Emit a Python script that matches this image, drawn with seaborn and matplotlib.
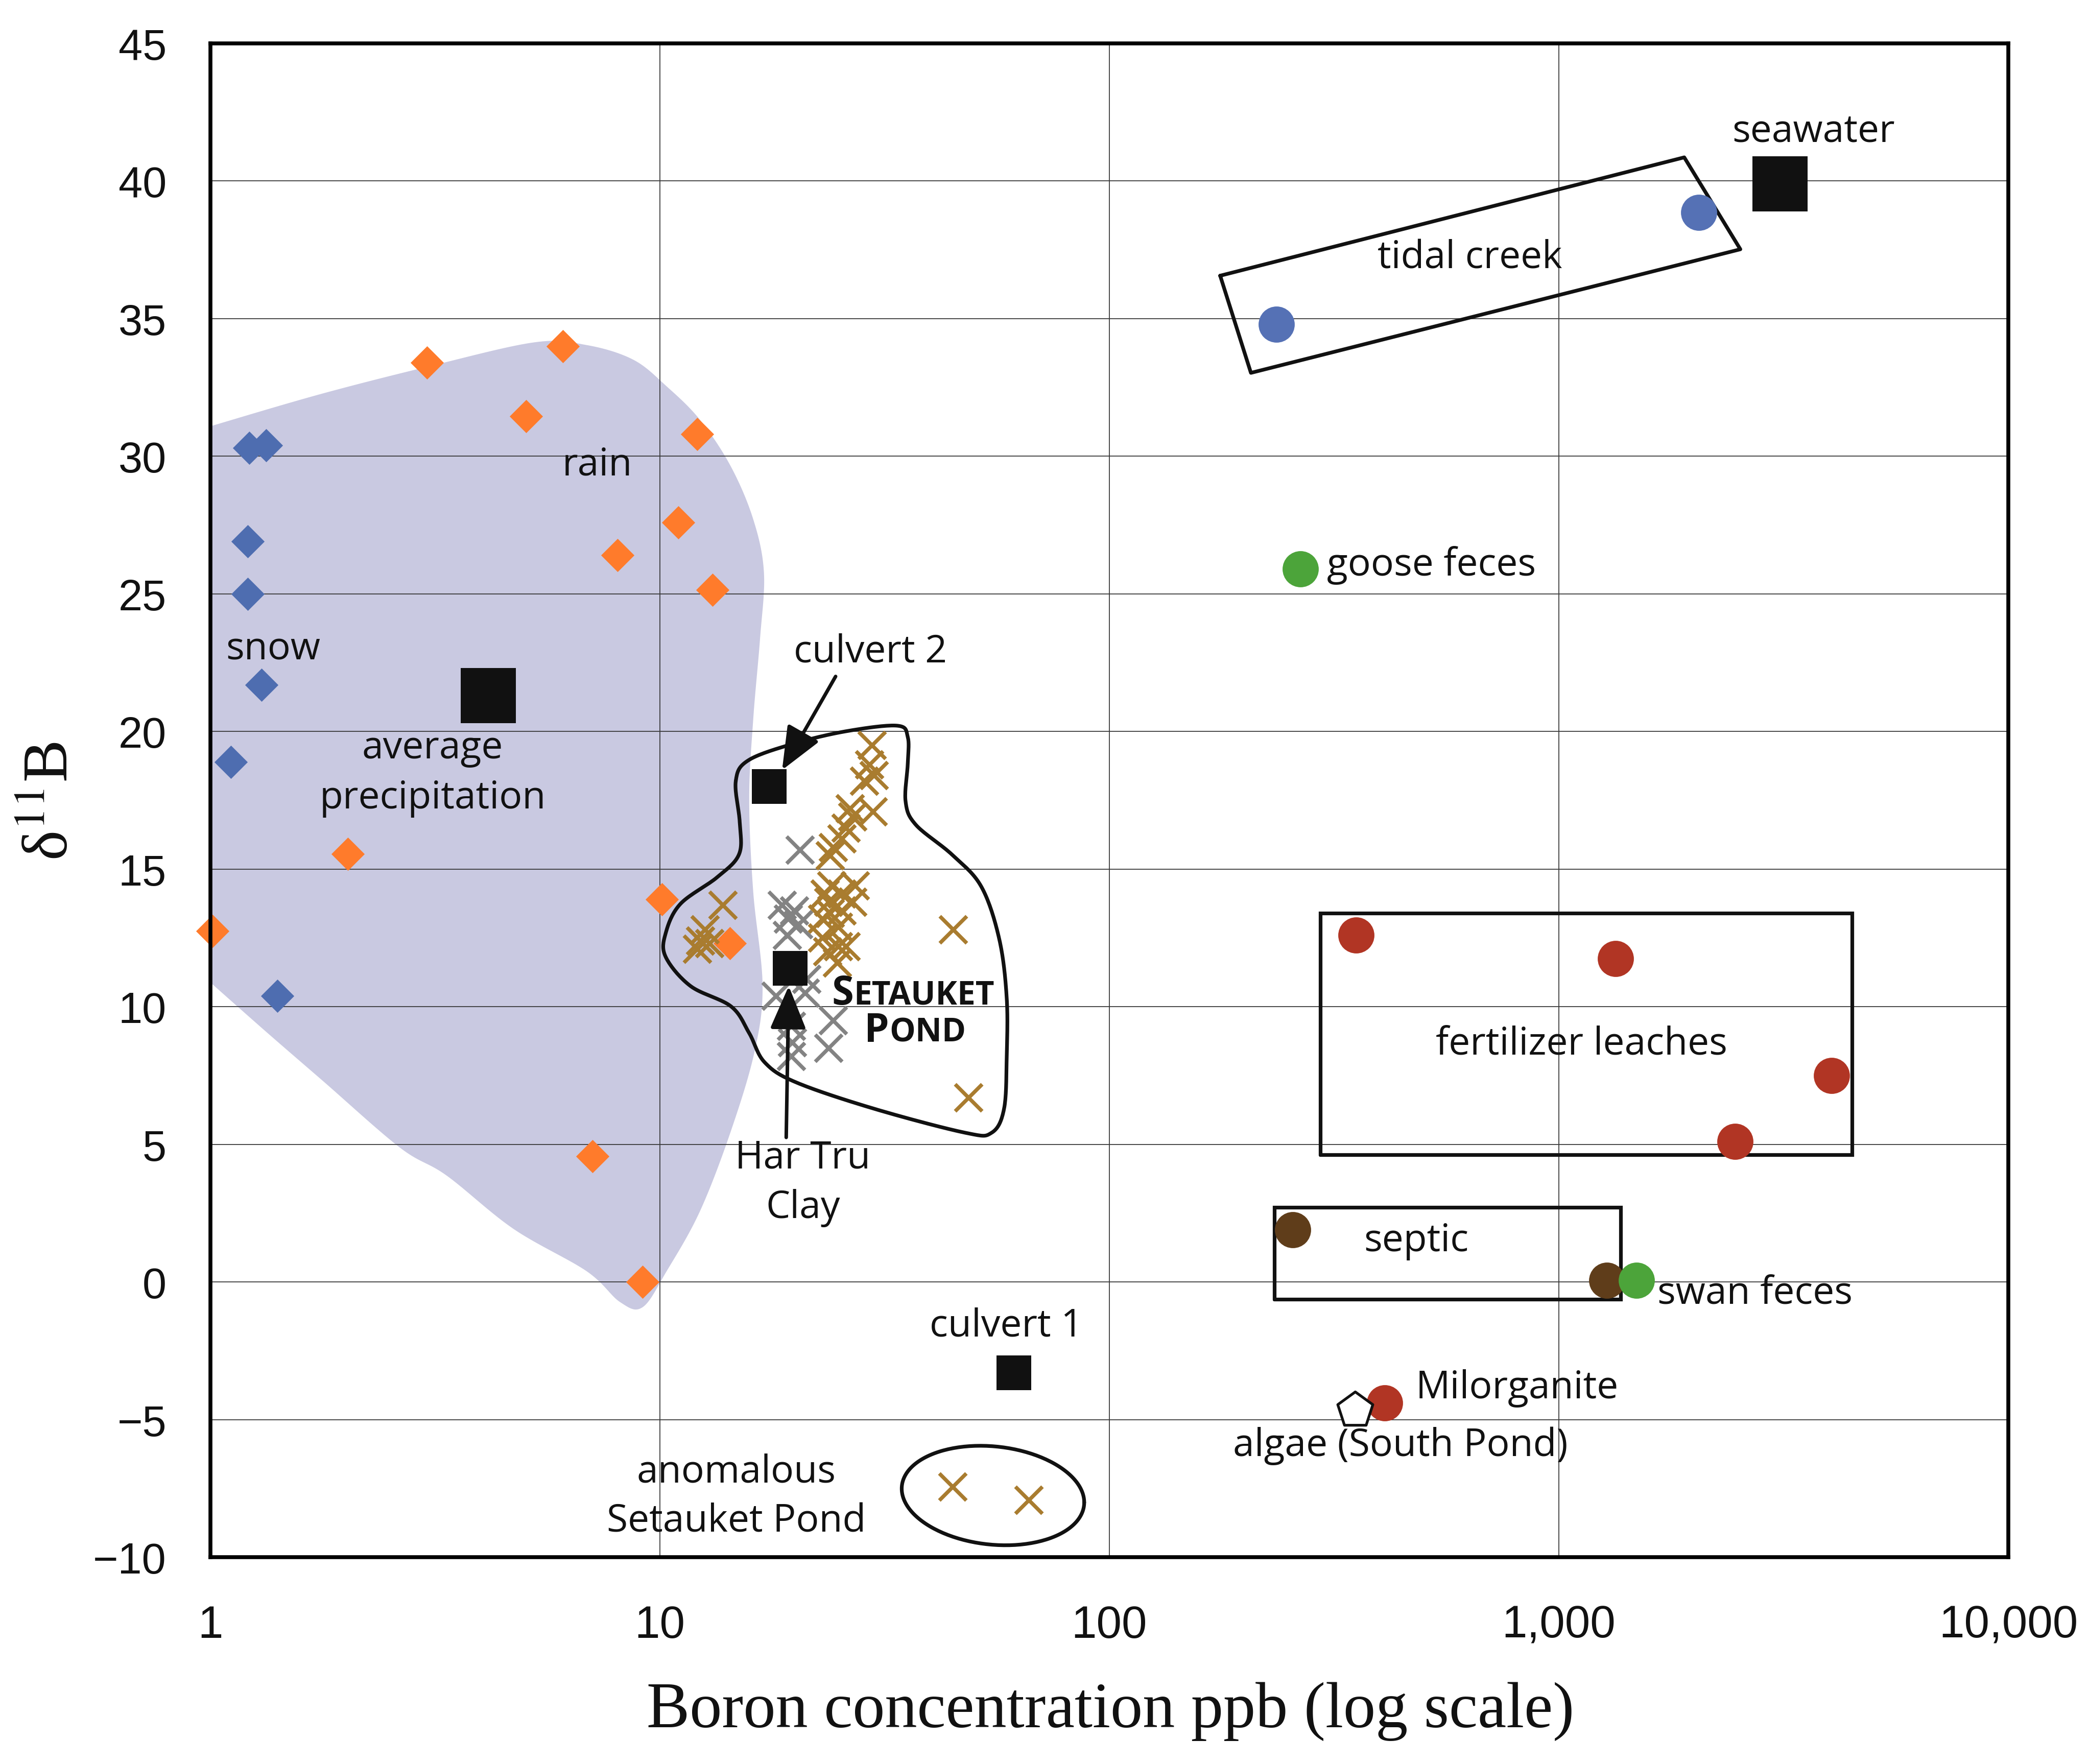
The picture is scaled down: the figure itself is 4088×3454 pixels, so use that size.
import numpy as np
import pandas as pd
import matplotlib
matplotlib.use("Agg")
import matplotlib.pyplot as plt
import seaborn as sns
from matplotlib.ticker import FixedLocator, FixedFormatter, NullLocator

# ---------------- data ----------------
snow_x = [1.22, 1.33, 1.21, 1.21, 1.30, 1.11, 1.41]
snow_y = [30.3, 30.4, 26.9, 25.0, 21.7, 18.9, 10.4]

rain_x = [3.03, 6.08, 5.04, 12.1, 11.0, 8.05, 13.1, 2.02, 1.01, 10.1, 14.3, 7.08, 9.16]
rain_y = [33.4, 34.0, 31.45, 30.8, 27.6, 26.4, 25.15, 15.55, 12.75, 13.9, 12.3, 4.56, 0.0]

pond_brown_x = [29.6, 29.2, 29.9, 28.5, 29.8, 26.5, 26.8, 25.9, 25.4, 24.3, 23.9,
                27.2, 24.1, 25.4, 23.3, 26.8, 23.7, 25.4, 23.9, 23.0, 24.9, 23.0,
                25.9, 24.9, 23.6, 24.8, 44.9, 48.6, 13.8, 12.6, 12.3, 12.1, 12.9]
pond_brown_y = [19.5, 18.8, 18.4, 18.2, 17.1, 17.2, 16.9, 16.5, 16.1, 15.8, 15.5,
                14.4, 14.4, 14.1, 14.1, 13.8, 13.8, 13.5, 13.4, 13.2, 12.9, 12.5,
                12.2, 12.2, 12.0, 11.6, 12.8, 6.7, 13.7, 12.8, 12.4, 12.1, 12.3]

pond_gray_x = [20.5, 18.7, 19.9, 19.3, 20.3, 19.2, 21.2, 18.1, 21.0, 19.6, 24.3, 19.7, 23.7, 19.6]
pond_gray_y = [15.7, 13.7, 13.5, 13.2, 13.0, 12.6, 11.0, 10.4, 10.5, 9.3, 9.5, 8.7, 8.5, 8.2]

anomalous_x = [44.8, 66.1]
anomalous_y = [-7.43, -7.92]

avg_precip_x, avg_precip_y = [4.15], [21.3]
seawater_x, seawater_y = [3105], [39.9]
culvert_x = [17.5, 61.3]          # culvert 2, culvert 1
culvert_y = [18.0, -3.3]
hartru_x, hartru_y = [19.5], [11.4]

tidal_x = [235, 2050]
tidal_y = [34.8, 38.85]
goose_x, goose_y = [266], [25.9]
swan_x, swan_y = [1489], [0.05]
septic_x = [256, 1280]
septic_y = [1.9, 0.05]
fert_x = [354, 1336, 4045, 2468]
fert_y = [12.6, 11.75, 7.5, 5.1]
milorganite_x, milorganite_y = [410], [-4.4]
algae_x, algae_y = [352], [-4.65]

x_ticks = [1, 10, 100, 1000, 10000]
x_ticklabels = ["1", "10", "100", "1,000", "10,000"]
y_ticks = [45, 40, 35, 30, 25, 20, 15, 10, 5, 0, -5, -10]
y_ticklabels = ["45", "40", "35", "30", "25", "20", "15", "10", "5", "0", "\u22125", "\u221210"]

# outline shapes (data coordinates)
precip_zone_x = [1.0, 1.75, 3.07, 5.26, 6.87, 8.72, 10.35, 12.27, 14.37, 16.13, 17.04, 16.70,
                 16.13, 15.80, 16.13, 16.92, 16.24, 14.37, 12.27, 10.35, 9.15, 8.15, 6.87,
                 4.72, 3.35, 2.64, 1.78, 1.33, 1.0]
precip_zone_y = [31.09, 32.25, 33.27, 34.14, 34.04, 33.51, 32.54, 31.33, 29.64, 27.71, 25.77,
                 23.36, 20.45, 17.55, 14.17, 10.78, 8.37, 5.46, 2.56, 0.39, -0.92, -0.73, 0.39,
                 1.93, 3.87, 4.88, 7.30, 9.09, 10.88]

pond_outline_x = [14.75, 15.76, 20.06, 26.2, 33.75, 35.6, 35.6, 35.2, 37.1, 44.7, 51.9,
                  56.9, 59.1, 59.1, 58.3, 54.7, 47.8, 30.0, 20.1, 17.1, 15.8, 14.4,
                  11.7, 10.3, 10.3, 11.1, 13.4, 15.0, 15.05]
pond_outline_y = [18.2, 18.96, 19.58, 20.02, 20.21, 19.8, 18.84, 17.46, 16.61, 15.52, 14.36,
                  12.45, 10.32, 8.19, 6.29, 5.42, 5.42, 6.29, 7.25, 7.98, 9.04, 10.01,
                  10.75, 11.81, 12.67, 13.73, 14.7, 15.54, 16.71]

tidal_box_x = [176.4, 1901, 2534, 206.5]
tidal_box_y = [36.56, 40.86, 37.52, 33.03]
fert_box_x = [294.6, 4487]
fert_box_y = [4.63, 13.4]
septic_box_x = [233, 1371]
septic_box_y = [-0.62, 2.72]

# ---------------- style ----------------
sns.set_theme(style="white")
plt.rcParams["font.family"] = ["Open Sans", "DejaVu Sans"]
plt.rcParams["mathtext.fontset"] = "stix"

W, H, DPI = 4088, 3455, 100
fig = plt.figure(figsize=(W / DPI, H / DPI), dpi=DPI)
fig.patch.set_facecolor("white")
ax = fig.add_axes([412 / W, 1 - 3050 / H, 3520 / W, 2964 / H])
ax.set_xscale("log")
ax.set_xlim(1, 10000)
ax.set_ylim(-10, 45)

# grid
ax.xaxis.set_major_locator(FixedLocator(x_ticks))
ax.xaxis.set_major_formatter(FixedFormatter(x_ticklabels))
ax.xaxis.set_minor_locator(NullLocator())
ax.yaxis.set_major_locator(FixedLocator(y_ticks))
ax.yaxis.set_major_formatter(FixedFormatter(y_ticklabels))
ax.set_axisbelow(True)
ax.grid(True, which="major", color="#3a3a3a", lw=1.3)
for s in ax.spines.values():
    s.set_visible(True)
    s.set_color("black")
    s.set_linewidth(5.5)
    s.set_zorder(10)
ax.tick_params(axis="both", length=0)
ax.tick_params(axis="y", pad=62)
ax.tick_params(axis="x", pad=66)
for lab in ax.get_yticklabels():
    lab.set_fontfamily(["Liberation Sans", "DejaVu Sans"])
    lab.set_fontsize(61)
    lab.set_color("#111111")
for lab in ax.get_xticklabels():
    lab.set_fontfamily(["Liberation Sans Narrow", "Liberation Sans", "DejaVu Sans"])
    lab.set_fontsize(64)
    lab.set_color("#111111")


def _cr(P, n, closed):
    N = len(P)
    t = np.linspace(0, 1, n, endpoint=False)[:, None]
    segs = []
    rng = range(N) if closed else range(N - 1)
    for i in rng:
        if closed:
            p0, p1, p2, p3 = P[(i - 1) % N], P[i], P[(i + 1) % N], P[(i + 2) % N]
        else:
            p0, p1 = P[max(i - 1, 0)], P[i]
            p2, p3 = P[i + 1], P[min(i + 2, N - 1)]
        segs.append(0.5 * (2 * p1 + (-p0 + p2) * t + (2 * p0 - 5 * p1 + 4 * p2 - p3) * t ** 2
                           + (-p0 + 3 * p1 - 3 * p2 + p3) * t ** 3))
    segs.append(P[0:1] if closed else P[-1:])
    return np.vstack(segs)


def smooth(xs, ys, n=18, closed=True):
    out = _cr(np.column_stack([np.log10(xs), ys]), n, closed)
    return 10 ** out[:, 0], out[:, 1]


# precipitation zone (open curve, closed by a straight edge outside the left spine)
zx, zy = smooth(precip_zone_x, precip_zone_y, closed=False)
zx = np.concatenate([zx, [0.8, 0.8]])
zy = np.concatenate([zy, [precip_zone_y[-1], precip_zone_y[0]]])
ax.fill(zx, zy, color="#C9C9E1", lw=0, zorder=0.2)

OUT_LW = 5.2
# Setauket pond outline
px_, py_ = smooth(pond_outline_x, pond_outline_y)
ax.plot(px_, py_, color="#111111", lw=OUT_LW, zorder=4, solid_capstyle="round")

# anomalous ellipse
th = np.linspace(0, 2 * np.pi, 200)
ecx, ecy, erx, ery = 1.741, -7.76, 0.203, 1.79
ex = ecx + erx * np.cos(th)
ey = ecy + ery * np.sin(th) - 0.25 * np.cos(th)
ax.plot(10 ** ex, ey, color="#111111", lw=OUT_LW, zorder=4)

# boxes
ax.plot(tidal_box_x + tidal_box_x[:1], tidal_box_y + tidal_box_y[:1], color="#111111", lw=OUT_LW, zorder=4)
for bx, by in [(fert_box_x, fert_box_y), (septic_box_x, septic_box_y)]:
    ax.plot([bx[0], bx[1], bx[1], bx[0], bx[0]], [by[0], by[0], by[1], by[1], by[0]],
            color="#111111", lw=OUT_LW, zorder=4, solid_joinstyle="miter")


def pts(x, y, marker, s, color, z=5, **kw):
    df = pd.DataFrame({"x": x, "y": y})
    sns.scatterplot(data=df, x="x", y="y", ax=ax, marker=marker, s=s, color=color,
                    legend=False, clip_on=False, zorder=z, **kw)


DIA_S, CIR_S, SQ_S, BIG_S, X_S = 1100, 2600, 2330, 6100, 1450
pts(snow_x, snow_y, "D", DIA_S, "#4E6DB0", linewidth=0)
pts(rain_x, rain_y, "D", DIA_S, "#FF7B2B", linewidth=0)
pts(pond_gray_x, pond_gray_y, "x", X_S, "#838383", z=5, linewidth=5.3)
pts(pond_brown_x, pond_brown_y, "x", X_S, "#A97C2F", z=5.5, linewidth=5.3)
pts(anomalous_x, anomalous_y, "x", X_S, "#A97C2F", z=5.5, linewidth=5.3)
pts(avg_precip_x, avg_precip_y, "s", BIG_S, "#111111", linewidth=0)
pts(seawater_x, seawater_y, "s", BIG_S, "#111111", linewidth=0)
pts(culvert_x, culvert_y, "s", SQ_S, "#111111", z=6, linewidth=0)
pts(hartru_x, hartru_y, "s", SQ_S, "#111111", z=6, linewidth=0)
pts(tidal_x, tidal_y, "o", CIR_S, "#5571B5", linewidth=0)
pts(goose_x, goose_y, "o", CIR_S, "#4CA43A", linewidth=0)
pts(septic_x, septic_y, "o", CIR_S, "#5F3D1A", linewidth=0)
pts(swan_x, swan_y, "o", CIR_S, "#4CA43A", linewidth=0)
pts(fert_x, fert_y, "o", CIR_S, "#B13524", linewidth=0)
pts(milorganite_x, milorganite_y, "o", CIR_S, "#B13524", linewidth=0)
ax.scatter(algae_x, algae_y, marker="p", s=2700, facecolor="white", edgecolor="#111111",
           linewidth=3.8, zorder=7)

# arrows
arrow_kw = dict(arrowstyle="-|>,head_length=1.0,head_width=0.42", lw=5, color="#111111",
                mutation_scale=52, shrinkA=0, shrinkB=0)
ax.annotate("", xy=(18.7, 18.6), xytext=(24.6, 22.0), arrowprops=arrow_kw, zorder=8)
ax.annotate("", xy=(19.35, 10.75), xytext=(19.1, 5.25), arrowprops=arrow_kw, zorder=8)

# labels
TFS = 54
TC = "#111111"
def lab(x, y, s, ha="center", va="center", fs=TFS, **kw):
    ax.text(x, y, s, ha=ha, va=va, fontsize=fs, color=TC, zorder=9, linespacing=1.4, **kw)

lab(3690, 41.8, "seawater")
lab(634, 37.2, "tidal creek")
lab(7.25, 29.7, "rain")
lab(1.38, 23.0, "snow")
lab(3.12, 18.5, "average\nprecipitation")
lab(29.4, 22.9, "culvert 2")
lab(305, 26.05, "goose feces", ha="left")
lab(20.8, 3.6, "Har Tru\nClay")
lab(1122, 8.65, "fertilizer leaches")
lab(482, 1.5, "septic")
lab(1655, -0.4, "swan feces", ha="left")
lab(58.9, -1.6, "culvert 1")
lab(480, -3.85, "Milorganite", ha="left")
lab(444, -5.95, "algae (South Pond)")
lab(14.8, -7.8, "anomalous\nSetauket Pond")

# small-caps "SETAUKET POND"
fig.canvas.draw()
renderer = fig.canvas.get_renderer()
def smallcaps(x, y, word, big=56, small=46):
    t = ax.text(x, y, word[0], fontsize=big, fontweight="bold", ha="left", va="baseline",
                color=TC, zorder=9)
    bb = t.get_window_extent(renderer=renderer)
    ax.annotate(word[1:], xy=(bb.x1, y), xycoords=("figure pixels", "data"), fontsize=small,
                fontweight="bold", ha="left", va="baseline", color=TC, zorder=9)

smallcaps(24.1, 10.1, "SETAUKET")
smallcaps(28.5, 8.75, "POND")

# axis titles
ax.set_xlabel("Boron concentration ppb (log scale)", fontsize=91, color=TC,
              fontfamily=["Liberation Serif", "DejaVu Serif"])
ax.xaxis.set_label_coords(0.5006, -0.082)
ax.set_ylabel("\u03b4$^{11}$B", fontsize=90, color=TC,
              fontfamily=["Liberation Serif", "DejaVu Serif"])
ax.yaxis.set_label_coords(-0.072, 0.5)

fig.savefig("out.png", dpi=DPI, facecolor="white")
